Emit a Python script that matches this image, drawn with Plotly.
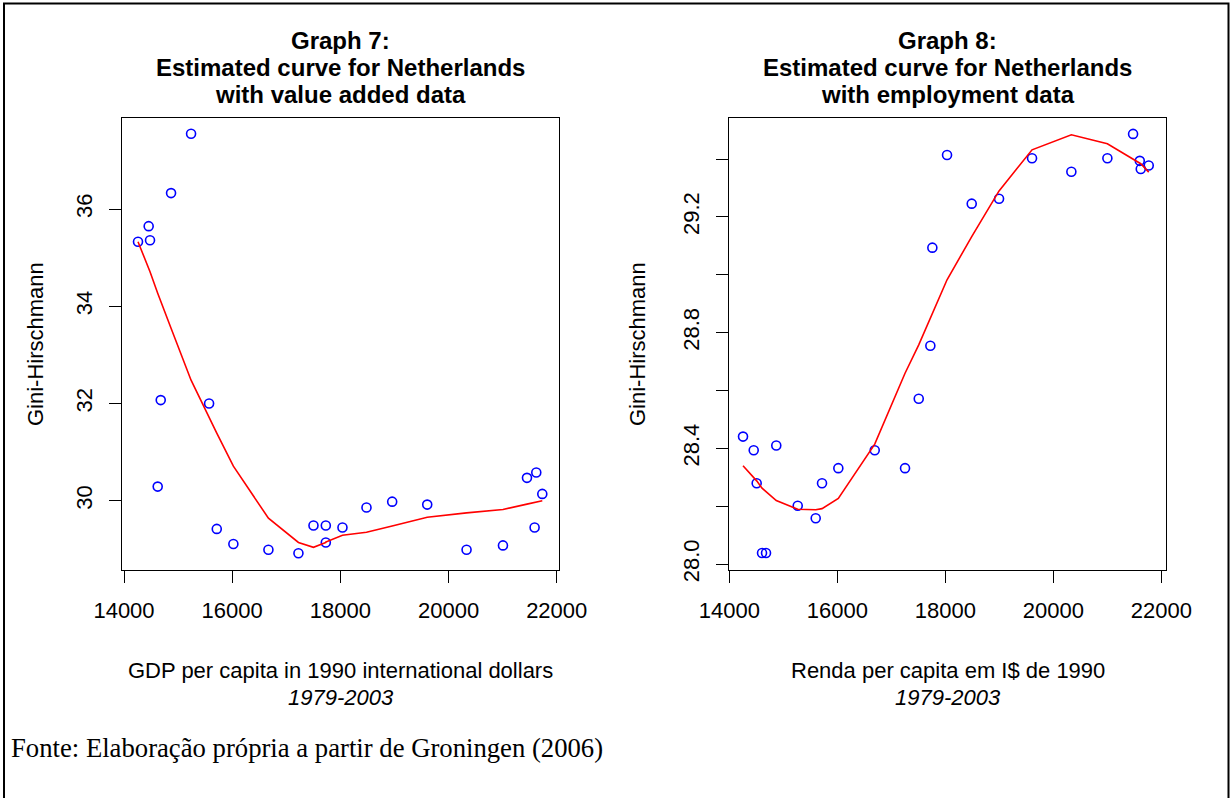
import plotly.graph_objects as go

# GDP per capita (1990 international dollars), one value per year 1979-2003
gdp_va = [14259, 14456, 14481, 14623, 14679, 14870, 15240, 15573, 15715, 16022,
          16670, 17225, 17503, 17731, 17731, 18039, 18483, 18958, 19606, 20333,
          21006, 21450, 21591, 21622, 21733]
gini_va = [35.33, 35.65, 35.36, 30.29, 32.07, 36.33, 37.55, 32.00, 29.42, 29.11,
           28.99, 28.92, 29.49, 29.49, 29.14, 29.45, 29.86, 29.98, 29.92, 28.99,
           29.08, 30.47, 29.45, 30.58, 30.14]
fit_va = [35.33, 34.79, 34.71, 34.27, 34.10, 33.55, 32.48, 31.70, 31.39, 30.71,
          29.64, 29.14, 29.04, 29.14, 29.15, 29.29, 29.35, 29.48, 29.66, 29.75,
          29.82, 29.93, 29.97, 29.97, 30.00]

gdp_emp = [14254, 14452, 14507, 14606, 14680, 14870, 15267, 15600, 15717, 16019,
           16693, 17254, 17508, 17723, 17760, 18032, 18489, 18995, 19606, 20334,
           21001, 21477, 21601, 21619, 21767]
gini_emp = [28.441, 28.394, 28.280, 28.039, 28.039, 28.410, 28.202, 28.159, 28.280, 28.332,
            28.394, 28.332, 28.572, 28.755, 29.094, 29.414, 29.246, 29.263, 29.403, 29.356,
            29.403, 29.487, 29.394, 29.366, 29.378]
fit_emp = [28.340, 28.299, 28.288, 28.263, 28.251, 28.220, 28.190, 28.188, 28.192, 28.227,
           28.415, 28.660, 28.758, 28.850, 28.865, 28.983, 29.132, 29.290, 29.432, 29.484,
           29.453, 29.400, 29.388, 29.384, 29.355]

x_ticks = [14000, 16000, 18000, 20000, 22000]
x_text = ["14000", "16000", "18000", "20000", "22000"]
y_ticks_va = [30, 32, 34, 36]
y_text_va = ["30", "32", "34", "36"]
y_ticks_emp = [28.0, 28.2, 28.4, 28.6, 28.8, 29.0, 29.2, 29.4]
y_text_emp = ["28.0", "", "28.4", "", "28.8", "", "29.2", ""]

title_va = ["Graph 7:", "Estimated curve for Netherlands", "with value added data"]
title_emp = ["Graph 8:", "Estimated curve for Netherlands", "with employment data"]

W, H = 1230, 798
SANS = "Liberation Sans, Arial, sans-serif"
SERIF = "Liberation Serif, Times New Roman, serif"


def px(x):
    return x / W


def py(y):
    return 1 - y / H


fig = go.Figure()

marker = dict(symbol="circle-open", size=9, color="#0000FF", line=dict(width=1.6, color="#0000FF"))
red = dict(color="#FF0000", width=1.6)

fig.add_trace(go.Scatter(x=gdp_va, y=gini_va, mode="markers", marker=marker,
                         xaxis="x", yaxis="y", showlegend=False))
fig.add_trace(go.Scatter(x=gdp_va, y=fit_va, mode="lines", line=red,
                         xaxis="x", yaxis="y", showlegend=False))
fig.add_trace(go.Scatter(x=gdp_emp, y=gini_emp, mode="markers", marker=marker,
                         xaxis="x2", yaxis="y2", showlegend=False))
fig.add_trace(go.Scatter(x=gdp_emp, y=fit_emp, mode="lines", line=red,
                         xaxis="x2", yaxis="y2", showlegend=False))

ydom = [py(570), py(118)]
axis_common = dict(showgrid=False, zeroline=False, showline=True, mirror=True,
                   linecolor="black", linewidth=1.4, ticks="outside", ticklen=12,
                   tickwidth=1.4, tickcolor="black", automargin=False,
                   tickfont=dict(family=SANS, size=22, color="black"))

fig.update_layout(
    width=W, height=H,
    margin=dict(l=0, r=0, t=0, b=0, autoexpand=False),
    paper_bgcolor="white", plot_bgcolor="white",
    xaxis=dict(domain=[px(122), px(559)], range=[13963, 22042], tickvals=x_ticks,
               ticktext=x_text, anchor="y", ticklabelstandoff=8, **axis_common),
    yaxis=dict(domain=ydom, range=[28.574, 37.875], tickvals=y_ticks_va,
               ticktext=y_text_va, tickangle=-90, anchor="x", ticklabelstandoff=8,
               **axis_common),
    xaxis2=dict(domain=[px(729.3), px(1165.7)], range=[14000, 22081], tickvals=x_ticks,
                ticktext=x_text, anchor="y2", ticklabelstandoff=8, **axis_common),
    yaxis2=dict(domain=ydom, range=[27.980, 29.542], tickvals=y_ticks_emp,
                ticktext=y_text_emp, tickangle=-90, anchor="x2",
                ticklabelstandoff=8, **axis_common),
)

annotations = []
# three-line bold titles, one annotation per line for tight spacing
for cx, lines in ((340.5, title_va), (947.5, title_emp)):
    for ly, txt in zip((40, 67, 94), lines):
        annotations.append(dict(x=px(cx), y=py(ly), xref="paper", yref="paper",
                                text="<b>" + txt + "</b>", showarrow=False,
                                xanchor="center", yanchor="middle",
                                font=dict(family=SANS, size=24, color="black")))

xtitles = [
    (340.5, "GDP per capita in 1990 international dollars"),
    (947.5, "Renda per capita em I$ de 1990"),
]
for cx, txt in xtitles:
    annotations.append(dict(x=px(cx), y=py(670), xref="paper", yref="paper",
                            text=txt, showarrow=False, xanchor="center", yanchor="middle",
                            font=dict(family=SANS, size=22, color="black")))
    annotations.append(dict(x=px(cx), y=py(697), xref="paper", yref="paper",
                            text="<i>1979-2003</i>", showarrow=False,
                            xanchor="center", yanchor="middle",
                            font=dict(family=SANS, size=22, color="black")))

for cx in (35, 637):
    annotations.append(dict(x=px(cx), y=py(344), xref="paper", yref="paper",
                            text="Gini-Hirschmann", textangle=-90, showarrow=False,
                            xanchor="center", yanchor="middle",
                            font=dict(family=SANS, size=22, color="black")))

annotations.append(dict(x=px(9), y=py(748), xref="paper", yref="paper",
                        text="Fonte: Elaboração própria a partir de Groningen (2006)",
                        showarrow=False, xanchor="left", yanchor="middle",
                        font=dict(family=SERIF, size=26.7, color="black")))

fig.update_layout(annotations=annotations)

# frame around the whole figure
fig.add_shape(type="rect", xref="paper", yref="paper",
              x0=px(4), x1=px(1228.5), y0=-0.05, y1=py(3.5),
              line=dict(color="black", width=2))

fig.write_html(
    "out.html",
    post_script="document.documentElement.style.margin='0';"
                "document.body.style.margin='0';"
                "document.body.style.overflow='hidden';",
)
